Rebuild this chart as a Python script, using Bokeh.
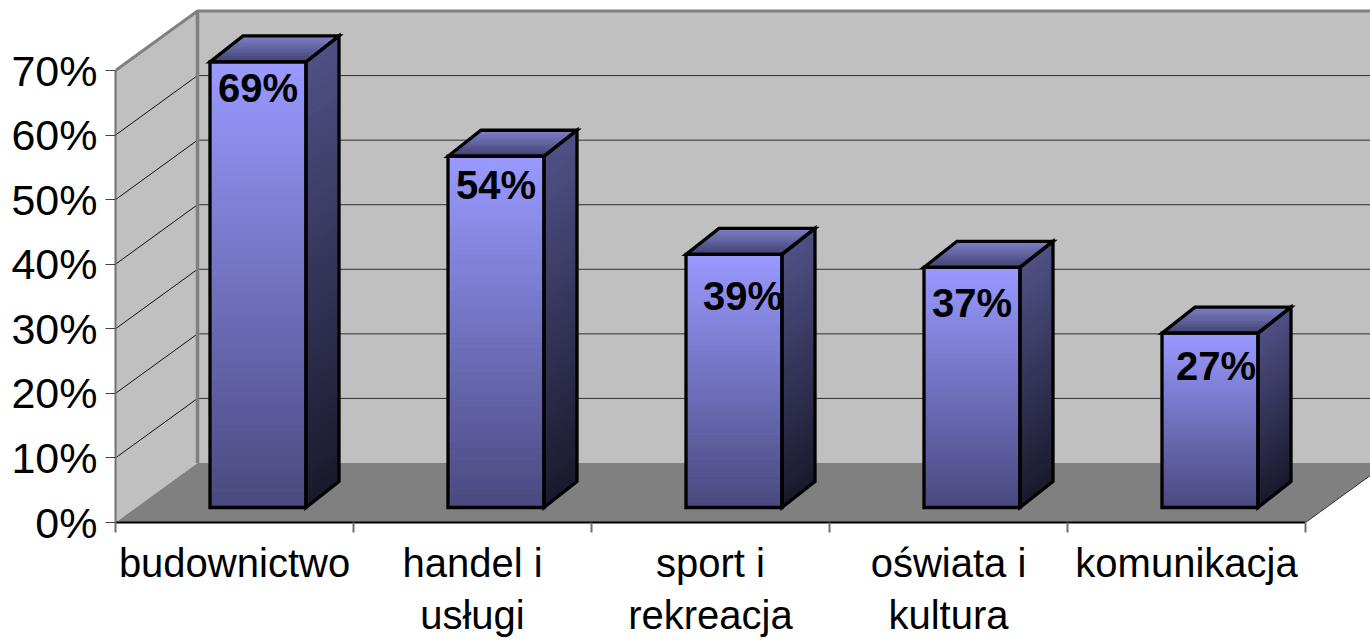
import numpy as np
from bokeh.core.properties import value
from bokeh.embed import file_html
from bokeh.models import FixedTicker, Range1d
from bokeh.plotting import figure
from bokeh.resources import INLINE

# ---- data ----
categories = ["budownictwo", "handel i\nusługi", "sport i\nrekreacja", "oświata i\nkultura", "komunikacja"]
shares = [69, 54.4, 39.2, 37.2, 27]
y_ticks = [0, 10, 20, 30, 40, 50, 60, 70]
y_labels = ["0%", "10%", "20%", "30%", "40%", "50%", "60%", "70%"]

# ---- layout (pixels on the page, converted through the scales) ----
PX_X = 238.0
PX_Y = 6.457
W, H = 1370, 640
LEFT, BOTTOM = 115, 118
FONT = "Liberation Sans"
label_dx = [0, 0, 9, 0, 6]
label_dy = [26, 29, 42, 36, 33]


def px(dx):
    return dx / PX_X


def py(dy):
    return dy / PX_Y


x_end = (W - LEFT) / PX_X
y_end = (H - BOTTOM) / PX_Y
wall_dx, wall_dy = px(82), py(59.5)
bar_dx, bar_dy = px(33), py(26)
bar_off_x, bar_off_y = px(23.5), py(15)
bar_w = px(96)
n_cat = len(categories)


def mix(c0, c1, t):
    return "#%02x%02x%02x" % tuple(int(round(a + (b - a) * t)) for a, b in zip(c0, c1))


p = figure(
    width=W, height=H, output_backend="svg", toolbar_location=None,
    x_range=Range1d(0, x_end), y_range=Range1d(0, y_end),
    min_border_left=LEFT, min_border_bottom=BOTTOM, min_border_top=0, min_border_right=0,
    outline_line_color=None, background_fill_color="white", border_fill_color="white",
)
p.grid.visible = False

# walls and floor
p.patch([wall_dx, x_end + 1, x_end + 1, wall_dx], [wall_dy, wall_dy, 70 + wall_dy, 70 + wall_dy],
        fill_color="#c0c0c0", line_color=None)
p.patch([0, wall_dx, wall_dx, 0], [0, wall_dy, 70 + wall_dy, 70], fill_color="#c0c0c0", line_color=None)
p.patch([0, wall_dx, n_cat + wall_dx, n_cat], [0, wall_dy, wall_dy, 0], fill_color="#808080", line_color=None)

# gridlines on the back and left wall
grid_v = np.array(y_ticks[1:-1])
p.segment(wall_dx, grid_v + wall_dy, x_end, grid_v + wall_dy, line_color="#303030", line_width=1)
p.segment(0, grid_v, wall_dx, grid_v + wall_dy, line_color="#101010", line_width=1)

# wall borders
p.line([0, wall_dx, x_end], [70, 70 + wall_dy, 70 + wall_dy], line_color="#808080", line_width=3)
p.line([wall_dx, wall_dx], [wall_dy, 70 + wall_dy], line_color="#808080", line_width=3.5)
p.line([n_cat, n_cat + wall_dx], [0, wall_dy], line_color="#303030", line_width=1)

# bars with gradient bands
N = 60
FRONT = ((0x99, 0x99, 0xff), (0x4a, 0x4a, 0x80))
SIDE = ((0x50, 0x50, 0x85), (0x1a, 0x1a, 0x2e))
TOP = ((0x44, 0x44, 0x74), (0x7c, 0x7c, 0xc4))
for i, v in enumerate(shares):
    x0 = i + 0.5 + bar_off_x - bar_w / 2
    x1 = x0 + bar_w
    y0 = bar_off_y
    y1 = y0 + v
    edges = np.linspace(y1, y0, N + 1)
    cols = [mix(*FRONT, k / (N - 1)) for k in range(N)]
    p.quad(left=x0, right=x1, top=edges[:-1], bottom=edges[1:], fill_color=cols, line_color=cols, line_width=1.5)
    cols = [mix(*SIDE, k / (N - 1)) for k in range(N)]
    p.patches([[x1, x1 + bar_dx, x1 + bar_dx, x1] for _ in range(N)],
              [[edges[k], edges[k] + bar_dy, edges[k + 1] + bar_dy, edges[k + 1]] for k in range(N)],
              fill_color=cols, line_color=cols, line_width=1.5)
    M = 12
    ts = np.linspace(0, 1, M + 1)
    cols = [mix(*TOP, k / (M - 1)) for k in range(M)]
    p.patches([[x0 + bar_dx * ts[k], x1 + bar_dx * ts[k], x1 + bar_dx * ts[k + 1], x0 + bar_dx * ts[k + 1]] for k in range(M)],
              [[y1 + bar_dy * ts[k], y1 + bar_dy * ts[k], y1 + bar_dy * ts[k + 1], y1 + bar_dy * ts[k + 1]] for k in range(M)],
              fill_color=cols, line_color=cols, line_width=1)
    # outlines
    outline = dict(fill_color=None, line_color="black", line_width=3.3, line_join="miter")
    p.patch([x0, x1, x1, x0], [y0, y0, y1, y1], **outline)
    p.patch([x1, x1 + bar_dx, x1 + bar_dx, x1], [y0, y0 + bar_dy, y1 + bar_dy, y1], **outline)
    p.patch([x0, x1, x1 + bar_dx, x0 + bar_dx], [y1, y1, y1 + bar_dy, y1 + bar_dy], **outline)

# value labels
lx = [i + 0.5 + bar_off_x + px(label_dx[i]) for i in range(n_cat)]
ly = [bar_off_y + shares[i] - py(label_dy[i]) for i in range(n_cat)]
p.text(lx, ly, text=[f"{round(v)}%" for v in shares], text_align="center", text_baseline="middle",
       text_font=value(FONT), text_font_style="bold", text_font_size="40px", text_color="black")

# axes
ay = p.yaxis[0]
ay.ticker = FixedTicker(ticks=y_ticks)
ay.major_label_overrides = dict(zip(y_ticks, y_labels))
ay.bounds = (0, 70)
ay.axis_line_color = "#707070"
ay.axis_line_width = 2
ay.major_tick_line_color = "#404040"
ay.major_tick_in = 0
ay.major_tick_out = 10
ay.minor_tick_line_color = None
ay.major_label_standoff = 8
ay.major_label_text_font = FONT
ay.major_label_text_font_size = "43px"
ay.major_label_text_color = "black"

ax = p.xaxis[0]
centers = [i + 0.5 for i in range(n_cat)]
ax.ticker = FixedTicker(ticks=centers, minor_ticks=list(range(n_cat + 1)))
ax.major_label_overrides = dict(zip(centers, categories))
ax.bounds = (0, n_cat)
ax.axis_line_color = "black"
ax.axis_line_width = 2
ax.major_tick_line_color = None
ax.major_tick_in = 0
ax.major_tick_out = 0
ax.minor_tick_line_color = "#707070"
ax.minor_tick_line_width = 2
ax.minor_tick_in = 0
ax.minor_tick_out = 10
ax.major_label_standoff = 8
ax.major_label_text_font = FONT
ax.major_label_text_font_size = "40px"
ax.major_label_text_color = "black"
ax.major_label_orientation = "horizontal"

open("out.html", "w").write(file_html(p, INLINE))
